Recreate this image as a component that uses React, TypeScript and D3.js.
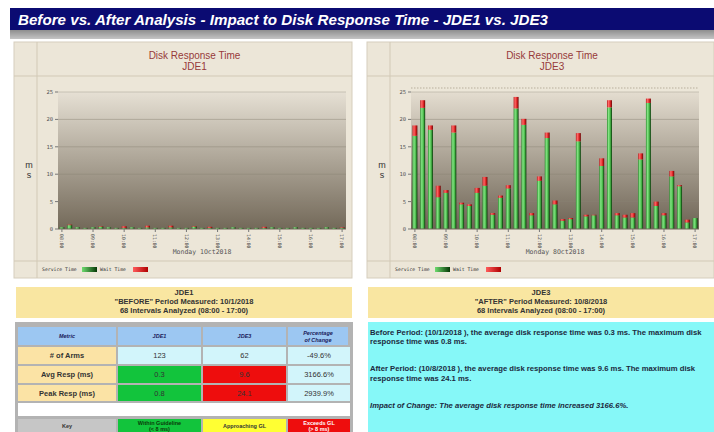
import React from "react";
import * as d3 from "d3";

// hour labels shown under every 4th 15-min interval
const hourLabels = ["08:00", "09:00", "10:00", "11:00", "12:00", "13:00", "14:00", "15:00", "16:00", "17:00"];
const yTicks = [0, 5, 10, 15, 20, 25];

// JDE1 (before) - ms per interval
const jde1Service = [0.3, 0.7, 0.3, 0.2, 0.3, 0.4, 0.3, 0.2, 0.2, 0.3, 0.2, 0.3, 0.2, 0.2, 0.3, 0.2, 0.2, 0.4, 0.2, 0.2, 0.2, 0.2, 0.3, 0.2, 0.2, 0.2, 0.2, 0.3, 0.2, 0.2, 0.3, 0.2, 0.2, 0.2, 0.3, 0.2, 0.2];
const jde1Wait = [0.0, 0.1, 0.0, 0.0, 0.0, 0.1, 0.0, 0.0, 0.3, 0.0, 0.0, 0.3, 0.0, 0.0, 0.3, 0.0, 0.0, 0.1, 0.0, 0.2, 0.0, 0.0, 0.0, 0.0, 0.0, 0.0, 0.2, 0.0, 0.0, 0.0, 0.0, 0.0, 0.0, 0.0, 0.0, 0.0, 0.1];

// JDE3 (after)
const jde3Service = [17.0, 22.1, 18.1, 5.8, 6.6, 17.6, 4.5, 4.2, 6.6, 7.9, 2.6, 5.7, 7.4, 22.0, 19.0, 2.5, 8.8, 16.6, 4.5, 1.5, 1.8, 16.0, 2.3, 2.5, 11.5, 22.2, 2.5, 2.1, 2.1, 12.7, 23.0, 4.2, 2.5, 9.6, 7.8, 1.2, 2.0];
const jde3Wait = [1.9, 1.4, 0.8, 2.1, 0.5, 1.3, 0.3, 0.3, 0.9, 1.6, 0.3, 0.4, 0.6, 2.1, 1.1, 0.4, 0.8, 1.0, 0.7, 0.3, 0.2, 1.5, 0.3, 0.1, 1.4, 1.3, 0.4, 0.5, 0.8, 1.1, 0.8, 0.8, 0.4, 1.0, 0.2, 0.5, 0.0];

// summary table
const tableHeaders = ["Metric", "JDE1", "JDE3", "Percentage|of Change"];
const metricNames = ["# of Arms", "Avg Resp (ms)", "Peak Resp (ms)"];
const jde1Metrics = [123, 0.3, 0.8];
const jde3Metrics = [62, 9.6, 24.1];
const pctChange = ["-49.6%", "3166.6%", "2939.9%"];
const keyLabels = ["Key", "Within Guideline|(< 8 ms)", "Approaching GL", "Exceeds GL|(> 8 ms)"];

const summaryLines = [
  { text: "Before Period: (10/1/2018 ), the average disk response time was 0.3 ms. The maximum disk", italic: false },
  { text: "response time was 0.8 ms.", italic: false },
  { text: "", italic: false },
  { text: "", italic: false },
  { text: "After Period: (10/8/2018 ), the average disk response time was 9.6 ms. The maximum disk", italic: false },
  { text: "response time was 24.1 ms.", italic: false },
  { text: "", italic: false },
  { text: "", italic: false },
  { text: "Impact of Change: The average disk response time increased 3166.6%.", italic: true },
];

const SANS = "'Liberation Sans', Arial, sans-serif";
const MONO = "'DejaVu Sans Mono', 'Liberation Mono', monospace";

function DiskChart({ x0, w, server, day, service, wait, id, dotted }) {
  const vline = x0 + 23;
  const plotL = x0 + 44;
  const plotR = plotL + 288;
  const plotT = 92;
  const plotB = 229;

  const x = d3.scaleBand()
    .domain(d3.range(service.length))
    .range([plotL, plotR])
    .paddingInner(0.36)
    .paddingOuter(0.18);
  const y = d3.scaleLinear().domain([0, 25]).range([plotB, plotT]);
  const cx = (vline + x0 + w) / 2;

  return (
    <g>
      <rect x={x0} y={42} width={w} height={236} fill="#ece6d8" stroke="#d6cebd" />
      <line x1={vline} x2={vline} y1={42} y2={278} stroke="#d2c9b6" />
      <line x1={x0} x2={x0 + w} y1={76} y2={76} stroke="#d2c9b6" />
      <line x1={x0} x2={x0 + w} y1={261} y2={261} stroke="#d2c9b6" />

      <text x={cx} y={59} textAnchor="middle" fontFamily={SANS} fontSize={10} fill="#973a3a">Disk Response Time</text>
      <text x={cx} y={70} textAnchor="middle" fontFamily={SANS} fontSize={10} fill="#973a3a">{server}</text>

      <text x={x0 + 15} y={168} textAnchor="middle" fontFamily={SANS} fontSize={9} fill="#333">m</text>
      <text x={x0 + 15} y={178} textAnchor="middle" fontFamily={SANS} fontSize={9} fill="#333">s</text>

      {dotted && (
        <line x1={plotL} x2={plotR} y1={88} y2={88} stroke="#b8af9c" strokeDasharray="1.5,1.5" />
      )}

      <rect x={plotL} y={plotT} width={plotR - plotL} height={plotB - plotT} fill={`url(#plotbg-${id})`} />
      {yTicks.map((t) => (
        <g key={t}>
          <line x1={plotL} x2={plotR} y1={y(t)} y2={y(t)} stroke={t === 25 ? "#9d968a" : "#8a8274"} strokeOpacity={t === 0 ? 0 : 0.45} />
          <line x1={plotL - 3} x2={plotL} y1={y(t)} y2={y(t)} stroke="#777" />
          <text x={plotL - 5} y={y(t) + 2} textAnchor="end" fontFamily={MONO} fontSize={5.5} fill="#555">{t}</text>
        </g>
      ))}

      {service.map((s, i) => {
        const bx = x(i);
        const bw = x.bandwidth();
        const top = s + wait[i];
        return (
          <g key={i}>
            <rect x={bx} y={y(s)} width={bw} height={y(0) - y(s)} fill="url(#greenbar)" />
            {wait[i] > 0 && (
              <rect x={bx} y={y(top)} width={bw} height={y(s) - y(top)} fill="url(#redbar)" />
            )}
          </g>
        );
      })}
      <line x1={plotL} x2={plotR} y1={plotB} y2={plotB} stroke="#6e6659" />

      {hourLabels.map((h, k) => {
        const tx = x(k * 4) + x.bandwidth() / 2;
        return (
          <g key={h}>
            <line x1={tx} x2={tx} y1={plotB} y2={plotB + 3} stroke="#777" />
            <text transform={`translate(${tx - 1.8},${plotB + 5}) rotate(90)`} fontFamily={MONO} fontSize={4.8} fill="#444">{h}</text>
          </g>
        );
      })}
      <text x={(plotL + plotR) / 2} y={254} textAnchor="middle" fontFamily={MONO} fontSize={6.5} fill="#555">{day}</text>

      <text x={vline + 5} y={271} fontFamily={MONO} fontSize={4.8} fill="#333">Service Time</text>
      <rect x={vline + 45} y={267} width={15} height={5} fill="url(#greenleg)" />
      <text x={vline + 63} y={271} fontFamily={MONO} fontSize={4.8} fill="#333">Wait Time</text>
      <rect x={vline + 96} y={267} width={15} height={5} fill="url(#redleg)" />
    </g>
  );
}

function cellLines(label) {
  return label.split("|");
}

export default function App() {
  const colEdges = [18, 118, 203, 288, 350];
  const rowEdges = [327, 347, 366, 385];
  const rowH = [18, 17, 17, 16];
  const status = d3.scaleThreshold().domain([8]).range(["#12c43c", "#ee0d0d"]);

  const headerCell = (i) => (
    <g key={"h" + i}>
      <rect x={colEdges[i]} y={rowEdges[0]} width={colEdges[i + 1] - colEdges[i] - 2} height={rowH[0]} fill="#9cc7f2" />
      {cellLines(tableHeaders[i]).map((ln, k, arr) => (
        <text key={k} x={(colEdges[i] + colEdges[i + 1] - 2) / 2} y={rowEdges[0] + 11 + (k - (arr.length - 1) / 2) * 7}
          textAnchor="middle" fontFamily={SANS} fontSize={5.5} fontWeight="bold" fontStyle="italic" fill="#1a1a5a">{ln}</text>
      ))}
    </g>
  );

  return (
    <svg width={714} height={432} style={{ position: "absolute", left: 0, top: 0, display: "block", background: "#fff" }}>
      <defs>
        <linearGradient id="plotbg-a" x1="0" y1="0" x2="0" y2="1">
          <stop offset="0" stopColor="#e6e0d4" />
          <stop offset="1" stopColor="#736959" />
        </linearGradient>
        <linearGradient id="plotbg-b" x1="0" y1="0" x2="0" y2="1">
          <stop offset="0" stopColor="#e4ddd0" />
          <stop offset="1" stopColor="#6d6354" />
        </linearGradient>
        <linearGradient id="greenbar" x1="0" y1="0" x2="1" y2="0">
          <stop offset="0" stopColor="#2f8a2f" />
          <stop offset="0.3" stopColor="#84e484" />
          <stop offset="0.65" stopColor="#4cbc4c" />
          <stop offset="1" stopColor="#053305" />
        </linearGradient>
        <linearGradient id="redbar" x1="0" y1="0" x2="1" y2="0">
          <stop offset="0" stopColor="#b52020" />
          <stop offset="0.3" stopColor="#ff6868" />
          <stop offset="0.65" stopColor="#e02828" />
          <stop offset="1" stopColor="#6a0000" />
        </linearGradient>
        <linearGradient id="greenleg" x1="0" y1="0" x2="1" y2="0">
          <stop offset="0" stopColor="#6fdc6f" />
          <stop offset="1" stopColor="#063806" />
        </linearGradient>
        <linearGradient id="redleg" x1="0" y1="0" x2="1" y2="0">
          <stop offset="0" stopColor="#ff5c5c" />
          <stop offset="1" stopColor="#b00000" />
        </linearGradient>
        <linearGradient id="grayband" x1="0" y1="0" x2="0" y2="1">
          <stop offset="0" stopColor="#8e8e8e" />
          <stop offset="1" stopColor="#c4c4c4" />
        </linearGradient>
      </defs>

      {/* title bar */}
      <rect x={10} y={8} width={704} height={22} fill="#0b0b72" />
      <rect x={10} y={30} width={704} height={9} fill="url(#grayband)" />
      <text x={18} y={25} fontFamily={SANS} fontSize={15} fontWeight="bold" fontStyle="italic" fill="#fff"
        textLength={530} lengthAdjust="spacingAndGlyphs">
        Before vs. After Analysis - Impact to Disk Response Time - JDE1 vs. JDE3
      </text>

      <DiskChart x0={14} w={338} server="JDE1" day="Monday 1Oct2018" service={jde1Service} wait={jde1Wait} id="a" dotted={false} />
      <DiskChart x0={367} w={347} server="JDE3" day="Monday 8Oct2018" service={jde3Service} wait={jde3Wait} id="b" dotted={true} />

      {/* period boxes */}
      <rect x={16} y={287} width={336} height={31} fill="#f9e6a1" />
      {["JDE1", "\"BEFORE\" Period Measured: 10/1/2018", "68 Intervals Analyzed (08:00 - 17:00)"].map((t, i) => (
        <text key={i} x={184} y={295 + i * 9} textAnchor="middle" fontFamily={SANS} fontSize={7.5} fontWeight="bold" fill="#333">{t}</text>
      ))}
      <rect x={368} y={287} width={346} height={31} fill="#f9e6a1" />
      {["JDE3", "\"AFTER\" Period Measured: 10/8/2018", "68 Intervals Analyzed (08:00 - 17:00)"].map((t, i) => (
        <text key={i} x={541} y={295 + i * 9} textAnchor="middle" fontFamily={SANS} fontSize={7.5} fontWeight="bold" fill="#333">{t}</text>
      ))}

      {/* metrics table */}
      <rect x={15} y={322} width={338} height={110} fill="#b3b3b3" />
      {tableHeaders.map((_, i) => headerCell(i))}
      {metricNames.map((m, r) => {
        const yy = rowEdges[r + 1];
        const h = rowH[r + 1];
        const vals = [jde1Metrics[r], jde3Metrics[r]];
        const valFill = (v) => (r === 0 ? "#d2f5fb" : status(v));
        return (
          <g key={m}>
            <rect x={colEdges[0]} y={yy} width={colEdges[1] - colEdges[0] - 2} height={h} fill="#fbe3a5" />
            <text x={(colEdges[0] + colEdges[1] - 2) / 2} y={yy + h / 2 + 2.6} textAnchor="middle" fontFamily={SANS} fontSize={7.5} fontWeight="bold" fill="#333">{m}</text>
            {vals.map((v, c) => (
              <g key={c}>
                <rect x={colEdges[c + 1]} y={yy} width={colEdges[c + 2] - colEdges[c + 1] - 2} height={h} fill={valFill(v)} />
                <text x={(colEdges[c + 1] + colEdges[c + 2] - 2) / 2} y={yy + h / 2 + 2.6} textAnchor="middle" fontFamily={SANS} fontSize={7.5} fill="#333">{v}</text>
              </g>
            ))}
            <rect x={colEdges[3]} y={yy} width={colEdges[4] - colEdges[3]} height={h} fill="#d2f5fb" />
            <text x={(colEdges[3] + colEdges[4]) / 2} y={yy + h / 2 + 2.6} textAnchor="middle" fontFamily={SANS} fontSize={7.5} fill="#333">{pctChange[r]}</text>
          </g>
        );
      })}
      <rect x={18} y={403} width={332} height={13} fill="#fff" />
      {keyLabels.map((k, i) => {
        const fills = ["#c6c6c6", "#12c43c", "#ffff33", "#ee0d0d"];
        const tc = ["#333", "#0a3a0a", "#333", "#fff"];
        const x1 = colEdges[i];
        const x2 = colEdges[i + 1] - (i < 3 ? 2 : 0);
        return (
          <g key={k}>
            <rect x={x1} y={419} width={x2 - x1} height={13} fill={fills[i]} />
            {cellLines(k).map((ln, j, arr) => (
              <text key={j} x={(x1 + x2) / 2} y={arr.length > 1 ? 425 + j * 6 : 428} textAnchor="middle" fontFamily={SANS} fontSize={5.5} fontWeight="bold" fill={tc[i]}>{ln}</text>
            ))}
          </g>
        );
      })}

      {/* summary text */}
      <rect x={368} y={322} width={346} height={110} fill="#86f8f8" />
      {summaryLines.map((l, i) => (
        l.text ? (
          <text key={i} x={370} y={335 + i * 9.1} fontFamily={SANS} fontSize={7.7} fontWeight="bold" fontStyle={l.italic ? "italic" : "normal"} fill="#1c2a40">{l.text}</text>
        ) : null
      ))}
    </svg>
  );
}
